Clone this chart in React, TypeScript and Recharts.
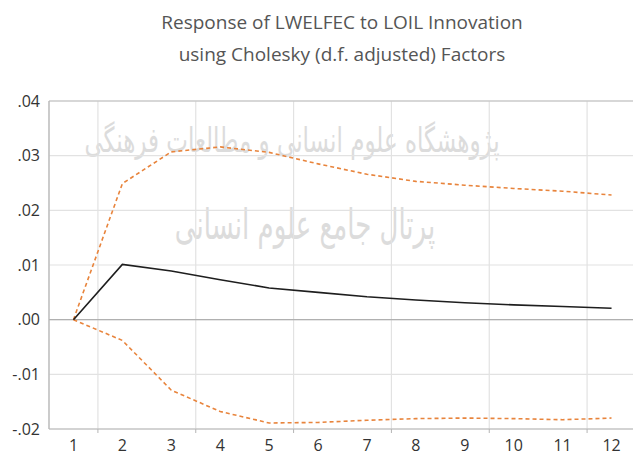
import { LineChart, Line, XAxis, YAxis, CartesianGrid, ReferenceLine } from 'recharts'

// impulse response periods and values
const PERIODS = [1, 2, 3, 4, 5, 6, 7, 8, 9, 10, 11, 12]
const RESPONSE = [0, 0.0101, 0.0089, 0.0073, 0.0058, 0.005, 0.0042, 0.0036, 0.0031, 0.0027, 0.0024, 0.0021]
const UPPER = [0, 0.0249, 0.0307, 0.0316, 0.0306, 0.0285, 0.0266, 0.0253, 0.0246, 0.024, 0.0235, 0.0228]
const LOWER = [0, -0.0038, -0.0129, -0.0168, -0.0189, -0.0188, -0.0184, -0.0181, -0.018, -0.0181, -0.0183, -0.018]

const Y_TICKS = [-0.02, -0.01, 0, 0.01, 0.02, 0.03, 0.04]
const GRID_TICKS = [1.5, 3.5, 5.5, 7.5, 9.5, 11.5]

const TITLE = ['Response of LWELFEC to LOIL Innovation', 'using Cholesky (d.f. adjusted) Factors']
// faint watermark of the source site
const WATERMARK = ['پژوهشگاه علوم انسانی و مطالعات فرهنگی', 'پرتال جامع علوم انسانی']

const data = PERIODS.map((p, i) => ({
  period: p,
  response: RESPONSE[i],
  upper: UPPER[i],
  lower: LOWER[i],
}))

function fmtY(v: number) {
  const s = Math.abs(v).toFixed(2).replace(/^0/, '')
  return v < 0 ? '-' + s : s
}

const ORANGE = '#E8843C'
const FONT = '"Open Sans", "Noto Sans", sans-serif'

const wmStyle = {
  position: 'absolute' as const,
  left: 0,
  width: 600,
  textAlign: 'center' as const,
  direction: 'rtl' as const,
  fontFamily: '"DejaVu Sans", sans-serif',
  color: '#dcdcdc',
  whiteSpace: 'nowrap' as const,
}

export default function App() {
  return (
    <div
      style={{
        position: 'absolute',
        left: 0,
        top: 0,
        width: 633,
        height: 456,
        overflow: 'hidden',
        background: '#fff',
        fontFamily: FONT,
      }}
    >
      <div style={{ ...wmStyle, top: 125, fontSize: 23, lineHeight: '30px', transform: 'translateX(-8px) scaleY(1.5)' }}>
        {WATERMARK[0]}
      </div>
      <div style={{ ...wmStyle, top: 208, fontSize: 26, lineHeight: '34px', transform: 'translateX(5px) scaleY(1.6)' }}>
        {WATERMARK[1]}
      </div>
      <div
        style={{
          position: 'absolute',
          left: 92,
          width: 500,
          top: 6,
          textAlign: 'center',
          fontSize: 19,
          lineHeight: '32px',
          color: '#555',
        }}
      >
        <div>{TITLE[0]}</div>
        <div>{TITLE[1]}</div>
      </div>
      <div style={{ position: 'absolute', left: 0, top: 0 }}>
        <LineChart width={640} height={456} data={data} margin={{ top: 101, right: 4, bottom: 0, left: 0 }}>
          <CartesianGrid xAxisId="grid" stroke="#e2e2e2" strokeWidth={1.2} />
          <XAxis
            xAxisId="grid"
            dataKey="period"
            type="number"
            domain={[0.5, 12.5]}
            ticks={GRID_TICKS}
            tickFormatter={() => ''}
            tickSize={4}
            tickLine={{ stroke: '#b5b5b5' }}
            axisLine={{ stroke: '#b5b5b5', strokeWidth: 1.2 }}
            height={4}
          />
          <XAxis
            xAxisId="main"
            dataKey="period"
            type="number"
            domain={[0.5, 12.5]}
            ticks={PERIODS}
            tickLine={false}
            axisLine={false}
            tickSize={0}
            tickMargin={7}
            height={23}
            tick={{ fill: '#333', fontSize: 16, fontFamily: FONT }}
          />
          <YAxis
            domain={[-0.02, 0.04]}
            ticks={Y_TICKS}
            tickFormatter={fmtY}
            width={49}
            tickSize={0}
            tickMargin={9}
            tickLine={false}
            axisLine={{ stroke: '#b5b5b5', strokeWidth: 1.2 }}
            tick={{ fill: '#333', fontSize: 16, fontFamily: FONT }}
          />
          <ReferenceLine xAxisId="main" y={0.04} stroke="#bdbdbd" strokeWidth={1.2} />
          <ReferenceLine xAxisId="main" y={0} stroke="#b0b0b0" strokeWidth={1.2} />
          <Line
            xAxisId="main"
            type="linear"
            dataKey="upper"
            stroke={ORANGE}
            strokeWidth={1.6}
            strokeDasharray="4 3"
            dot={false}
            isAnimationActive={false}
          />
          <Line
            xAxisId="main"
            type="linear"
            dataKey="lower"
            stroke={ORANGE}
            strokeWidth={1.6}
            strokeDasharray="4 3"
            dot={false}
            isAnimationActive={false}
          />
          <Line
            xAxisId="main"
            type="linear"
            dataKey="response"
            stroke="#1e1e1e"
            strokeWidth={1.6}
            dot={false}
            isAnimationActive={false}
          />
        </LineChart>
      </div>
    </div>
  )
}
